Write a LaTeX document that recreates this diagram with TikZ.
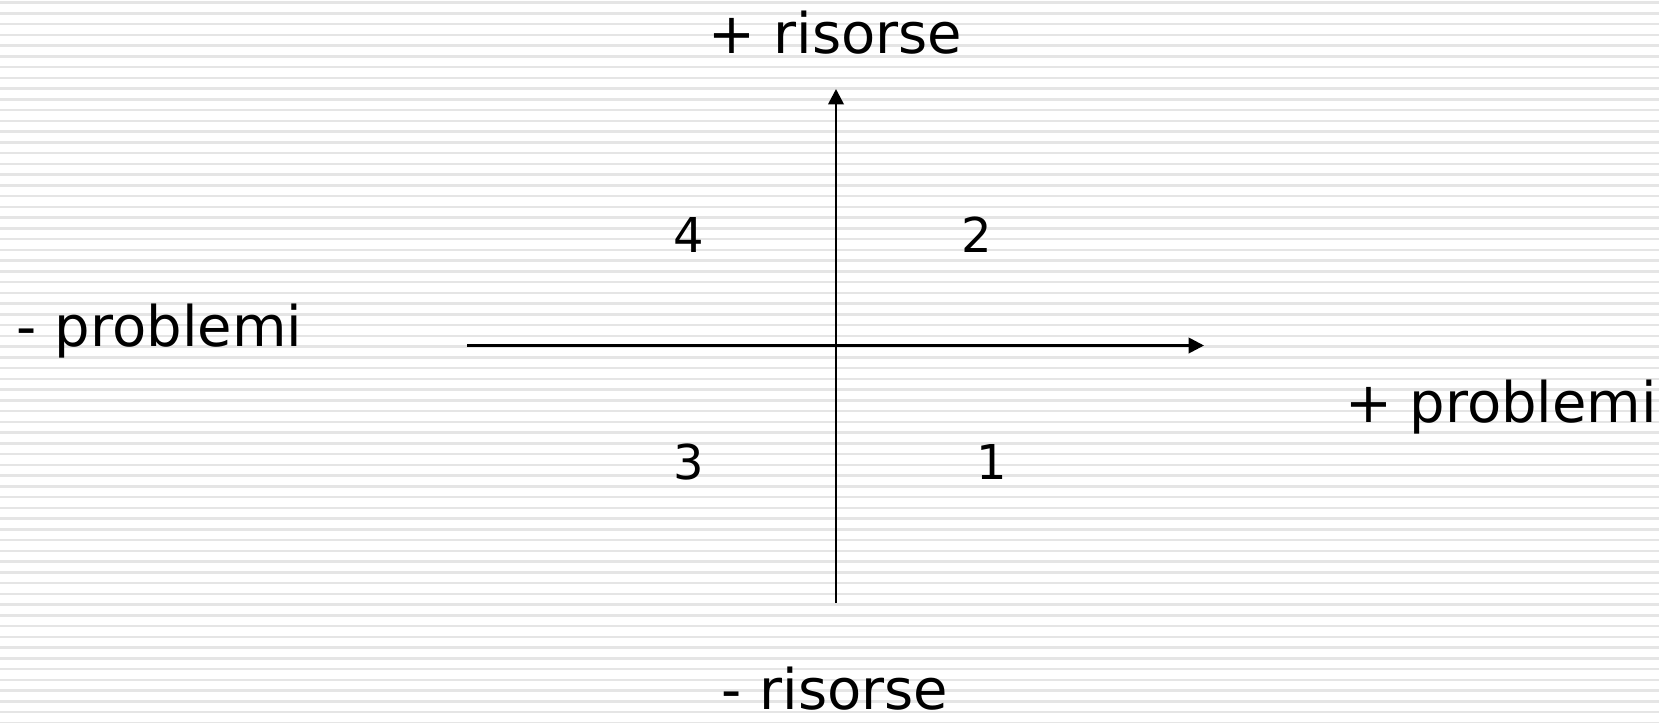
\documentclass[tikz,border=0pt]{standalone}
\usepackage{fontspec}
\setmainfont{DejaVu Sans}
\usetikzlibrary{arrows.meta}
\begin{document}
\begin{tikzpicture}[x=0.75pt,y=-0.75pt,
  stripe/.style={line width=1.9pt,draw=gray!20},
  axis/.style={line width=2pt,draw=black,-{Triangle[length=11.5pt,width=11.5pt]}},
  lab/.style={inner sep=0pt,anchor=base,font=\fontsize{42}{50}\selectfont},
  num/.style={inner sep=0pt,anchor=base,font=\fontsize{36}{43}\selectfont}]
\useasboundingbox (0,0) rectangle (1659,722);
\fill[white] (0,0) rectangle (1659,722);
\foreach \k in {0,...,67}{
  \draw[stripe] (0,{2.7+10.75*\k}) -- (1659,{2.7+10.75*\k});
}
\coordinate (vb) at (836,603);
\coordinate (vt) at (836,89);
\coordinate (hl) at (467,345.5);
\coordinate (hr) at (1204,345.5);
\draw[axis] (vb) -- (vt);
\draw[axis] (hl) -- (hr);
\node[lab] (rp) at (835.5,53) {+ risorse};
\node[lab] (rm) at (835,709) {- risorse};
\node[lab] (pm) at (159.5,346) {- problemi};
\node[lab] (pp) at (1501,422) {+ problemi};
\node[num] (q4) at (688.5,252) {4};
\node[num] (q2) at (976.5,252) {2};
\node[num] (q3) at (689,479) {3};
\node[num] (q1) at (992,479) {1};
\end{tikzpicture}
\end{document}
